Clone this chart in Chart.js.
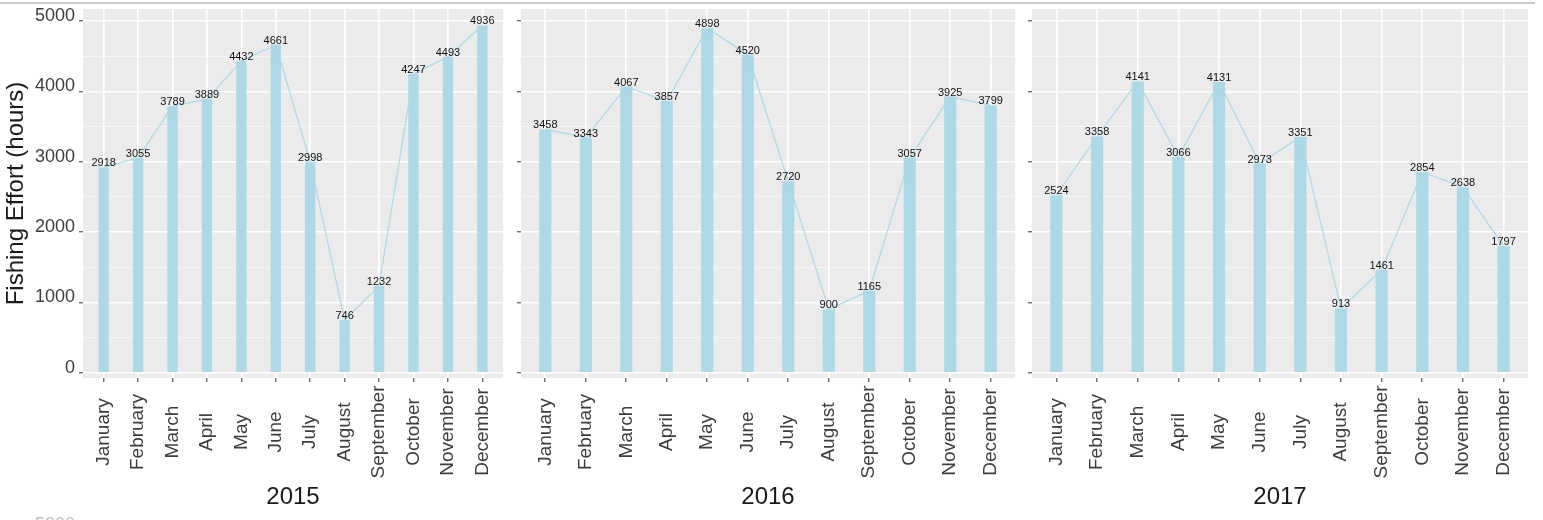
<!DOCTYPE html>
<html>
<head>
  <meta charset="UTF-8" />
  <title>Monthly Fishing Effort</title>
  <script src="https://cdn.jsdelivr.net/npm/chart.js"></script>
  <style>
    body {
      margin: 0;
      width: 1543px;
      height: 520px;
      overflow: hidden;
      position: relative;
      background: #ffffff;
      font-family: "Liberation Sans", Arial, sans-serif;
    }
    .rule { position: absolute; left: 0; top: 2px; width: 1535px; border-top: 2px solid #c9c9c9; }
    .panel { position: absolute; top: 0; height: 520px; }
    .footnote { position: absolute; left: 35px; top: 514px; font-size: 18px; color: #bdbdbd; }
  </style>
</head>
<body>
  <div class="rule"></div>
  <div class="panel" style="left:0; width:505px;"><canvas id="chart2015"></canvas></div>
  <div class="panel" style="left:505px; width:512px;"><canvas id="chart2016"></canvas></div>
  <div class="panel" style="left:1017px; width:513px;"><canvas id="chart2017"></canvas></div>
  <div class="footnote">5000</div>

  <script>
    const months = ["January", "February", "March", "April", "May", "June",
      "July", "August", "September", "October", "November", "December"];

    const effort2015 = [2918, 3055, 3789, 3889, 4432, 4661, 2998, 746, 1232, 4247, 4493, 4936];
    const effort2016 = [3458, 3343, 4067, 3857, 4898, 4520, 2720, 900, 1165, 3057, 3925, 3799];
    const effort2017 = [2524, 3358, 4141, 3066, 4131, 2973, 3351, 913, 1461, 2854, 2638, 1797];

    // major lines every 1000, minor lines halfway between
    const yGridValues = [0, 500, 1000, 1500, 2000, 2500, 3000, 3500, 4000, 4500, 5000];
    const yMin = -75;
    const yMax = 5170;

    const FONT = '"Liberation Sans", Arial, sans-serif';
    const BAR_BLUE = "#ADD8E6";
    const AXIS_TEXT = "#3d3d3d";

    const isMajor = ctx => ctx.tick && ctx.tick.value % 1000 === 0;

    // grey panel behind the grid
    const panelBackground = {
      id: "panelBackground",
      beforeDraw(chart) {
        const { ctx, chartArea: a } = chart;
        ctx.save();
        ctx.fillStyle = "#EBEBEB";
        ctx.fillRect(a.left, a.top, a.right - a.left, a.bottom - a.top);
        ctx.restore();
      }
    };

    // month names, rotated and centred below each tick
    const monthLabels = {
      id: "monthLabels",
      afterDraw(chart) {
        const { ctx, chartArea: a } = chart;
        const xScale = chart.scales.x;
        ctx.save();
        ctx.font = "19px " + FONT;
        ctx.fillStyle = AXIS_TEXT;
        ctx.textAlign = "center";
        ctx.textBaseline = "middle";
        months.forEach((m, i) => {
          ctx.save();
          ctx.translate(xScale.getPixelForValue(i), a.bottom + 54);
          ctx.rotate(-Math.PI / 2);
          ctx.fillText(m, 0, 0);
          ctx.restore();
        });
        ctx.restore();
      }
    };

    // value printed on top of every bar
    const valueLabels = {
      id: "valueLabels",
      afterDatasetsDraw(chart) {
        const { ctx } = chart;
        const meta = chart.getDatasetMeta(1);
        const points = chart.data.datasets[1].data;
        ctx.save();
        ctx.font = "11px " + FONT;
        ctx.fillStyle = "#111111";
        ctx.textAlign = "center";
        ctx.textBaseline = "alphabetic";
        meta.data.forEach((bar, i) => {
          ctx.fillText(String(points[i].y), bar.x, bar.y - 1);
        });
        ctx.restore();
      }
    };

    function makePanel(canvasId, year, values, yAxisWidth, showYLabels) {
      const points = values.map((v, i) => ({ x: i, y: v }));

      return new Chart(document.getElementById(canvasId), {
        type: "bar",
        data: {
          datasets: [
            {
              type: "line",
              data: points,
              borderColor: BAR_BLUE,
              borderWidth: 1.2,
              pointRadius: 0,
              fill: false,
              tension: 0
            },
            {
              type: "bar",
              data: points,
              backgroundColor: BAR_BLUE,
              borderWidth: 0,
              barPercentage: 0.3,
              categoryPercentage: 1
            }
          ]
        },
        options: {
          responsive: true,
          maintainAspectRatio: false,
          animation: false,
          events: [],
          layout: { padding: { top: 9, right: 2, bottom: 0, left: 0 } },
          plugins: {
            legend: { display: false },
            tooltip: { enabled: false }
          },
          scales: {
            x: {
              type: "linear",
              min: -0.6,
              max: 11.6,
              offset: false,
              afterBuildTicks: scale => {
                scale.ticks = months.map((m, i) => ({ value: i }));
              },
              afterFit: scale => {
                scale.height = 142;
                scale.paddingLeft = 0;
                scale.paddingRight = 0;
              },
              ticks: { display: false },
              grid: {
                offset: false,
                color: "#ffffff",
                lineWidth: 1.6,
                drawTicks: true,
                tickLength: 4,
                tickWidth: 1,
                tickColor: "#333333"
              },
              border: { display: false },
              title: {
                display: true,
                text: year,
                color: "#1a1a1a",
                font: { family: FONT, size: 24 },
                padding: { top: 0, bottom: 8 }
              }
            },
            y: {
              min: yMin,
              max: yMax,
              afterBuildTicks: scale => {
                scale.ticks = yGridValues.map(v => ({ value: v }));
              },
              afterFit: scale => {
                scale.width = yAxisWidth;
                scale.paddingTop = 0;
                scale.paddingBottom = 0;
              },
              ticks: {
                padding: 4,
                labelOffset: -5,
                color: AXIS_TEXT,
                font: { family: FONT, size: 18 },
                callback: v => (showYLabels && v % 1000 === 0 ? String(v) : "")
              },
              grid: {
                color: ctx => (isMajor(ctx) ? "#ffffff" : "rgba(255,255,255,0.65)"),
                lineWidth: ctx => (isMajor(ctx) ? 1.6 : 0.8),
                drawTicks: true,
                tickLength: 4,
                tickWidth: 1,
                tickColor: ctx => (isMajor(ctx) ? "#333333" : "rgba(0,0,0,0)")
              },
              border: { display: false },
              title: {
                display: showYLabels,
                text: "Fishing Effort (hours)",
                color: "#1a1a1a",
                font: { family: FONT, size: 24 },
                padding: { top: 2, bottom: 0 }
              }
            }
          }
        },
        plugins: [panelBackground, monthLabels, valueLabels]
      });
    }

    makePanel("chart2015", "2015", effort2015, 83, true);
    makePanel("chart2016", "2016", effort2016, 16, false);
    makePanel("chart2017", "2017", effort2017, 15, false);
  </script>
</body>
</html>
